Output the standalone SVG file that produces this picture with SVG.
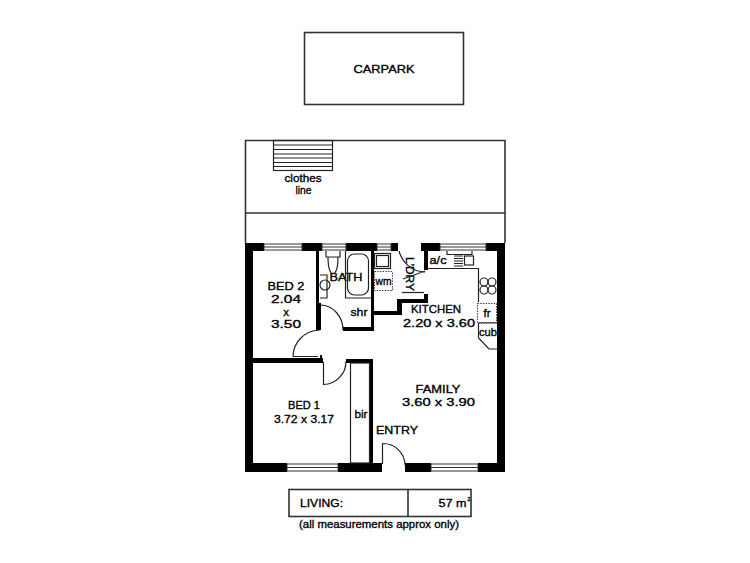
<svg xmlns="http://www.w3.org/2000/svg" width="750" height="563" viewBox="0 0 750 563">
<style>
.w{fill:#000}
.l{fill:none;stroke:#222;stroke-width:1.2}
.m{fill:none;stroke:#333;stroke-width:1.6}
.d{fill:none;stroke:#444;stroke-width:1.1;stroke-dasharray:1.5 1.2}
.win{fill:none;stroke:#333;stroke-width:1}
text{font-family:"Liberation Sans",Arial,sans-serif;fill:#000;stroke:#000;stroke-width:.35;font-size:11.500px;text-anchor:middle}
</style>
<rect width="750" height="563" fill="#fff"/>
<g id="carpark"><rect class="m" x="304.500" y="32.500" width="159" height="72"/><text x="384" y="73" textLength="61" lengthAdjust="spacingAndGlyphs">CARPARK</text></g>
<g id="yard">
<path class="m" d="M245.500 243V140.500H505V243M245.500 213H505"/>
<rect class="l" x="273.500" y="140.500" width="59" height="30"/>
<path class="l" d="M273.500 145H332.500M273.500 149.500H332.500M273.500 154H332.500M273.500 158H332.500M273.500 162.500H332.500M273.500 166.500H332.500"/>
<text x="303" y="182" textLength="37" lengthAdjust="spacingAndGlyphs">clothes</text>
<text x="303.500" y="194" textLength="16" lengthAdjust="spacingAndGlyphs">line</text>
</g>
<g id="walls">
<path class="w" d="M245 243H264V251H253V463H287V472H245Z"/>
<path class="w" d="M302 243H322V251H302ZM346 243H377V251H346ZM391 243H398V251H391ZM421 243H440V251H428V270H424V251H421ZM486 243H505V472H478V463H497V251H486Z"/>
<path class="w" d="M338 463H369V363H346V359H373V463H382V472H338ZM405 463H431V472H405Z"/>
<path class="w" d="M253 358H320V355H322V358H323V363H253Z"/>
<path class="w" d="M316 251H319V303H321V330H316Z"/>
<path class="w" d="M343 327H371V251H374V331H343ZM374 311H397V299H424V294H428V303H402V315H374Z"/>
</g>
<g id="windows">
<path class="win" d="M264 244H302V250H264ZM264 247H302M322 244H346V250H322ZM322 247H346M377 244H391V250H377ZM377 247H391M440 244H486V250H440ZM440 247H486M287 464H338V471H287ZM287 467.500H338M431 464H478V471H431ZM431 467.500H478"/>
</g>
<g id="bed2"><text x="286" y="290" textLength="37" lengthAdjust="spacingAndGlyphs">BED 2</text><text x="286" y="303" textLength="30" lengthAdjust="spacingAndGlyphs">2.04</text><text x="286" y="316">x</text><text x="286" y="328" textLength="30" lengthAdjust="spacingAndGlyphs">3.50</text></g>
<g id="bed1"><text x="304" y="409" textLength="32" lengthAdjust="spacingAndGlyphs">BED 1</text><text x="304" y="423" textLength="60" lengthAdjust="spacingAndGlyphs">3.72 x 3.17</text></g>
<g id="bir"><rect class="l" x="350.500" y="363" width="19" height="100"/><text x="361" y="418" textLength="13" lengthAdjust="spacingAndGlyphs" font-size="10">bir</text></g>
<g id="bath">
<text x="346" y="281" textLength="33" lengthAdjust="spacingAndGlyphs">BATH</text>
<path class="l" d="M326 251V257H340V251M328 257C328 270 331 274 333 274C335 274 338 270 338 257"/>
<path class="l" d="M320 275H327V298H320"/><circle class="l" cx="325" cy="285" r="5" fill="#fff"/>
<rect class="l" x="347.500" y="254" width="21" height="41" rx="7"/>
<path class="l" d="M345.500 251V298M345 298H372"/>
<text x="359" y="316" font-size="10" textLength="17" lengthAdjust="spacingAndGlyphs">shr</text>
</g>
<g id="laundry">
<rect class="l" x="374.500" y="253.500" width="16" height="15"/><rect class="l" x="376.500" y="255.500" width="12" height="11"/>
<rect class="d" x="374.500" y="271.500" width="18" height="19"/>
<text x="383.500" y="285" font-size="10" textLength="16" lengthAdjust="spacingAndGlyphs">wm</text>
<text transform="translate(406 274) rotate(90)" textLength="34" lengthAdjust="spacingAndGlyphs">L'DRY</text>
<path class="l" d="M402 292.500H424"/>
</g>
<g id="kitchen">
<text x="436" y="313" textLength="50" lengthAdjust="spacingAndGlyphs">KITCHEN</text><text x="439" y="327" textLength="72" lengthAdjust="spacingAndGlyphs">2.20 x 3.60</text>
<text x="438" y="264" font-size="10" textLength="17" lengthAdjust="spacingAndGlyphs">a/c</text>
<path class="l" d="M428 268.500H478.500V302M447 251V254.500H472V251"/>
<path class="l" d="M454 256H463M454 258.500H463M454 261H463M454 263.500H463M454 266H463"/>
<rect class="l" x="464.500" y="256" width="9" height="9"/>
<circle class="l" cx="484" cy="282" r="4"/><circle class="l" cx="492" cy="282" r="4"/><circle class="l" cx="484" cy="290" r="4"/><circle class="l" cx="492" cy="290" r="4"/>
<rect class="d" x="477.500" y="303.500" width="19" height="19"/>
<text x="487" y="317" font-size="10">fr</text>
<path class="l" d="M478.500 323V338L489 349H497M478.500 323H497"/>
<text x="488" y="336" font-size="10" textLength="18" lengthAdjust="spacingAndGlyphs">cub</text>
</g>
<g id="family"><text x="438" y="393" textLength="45" lengthAdjust="spacingAndGlyphs">FAMILY</text><text x="438.500" y="406" textLength="73" lengthAdjust="spacingAndGlyphs">3.60 x 3.90</text></g>
<g id="entry"><text x="397" y="434" textLength="42" lengthAdjust="spacingAndGlyphs">ENTRY</text></g>
<g id="connectors">
<path class="l" d="M320.500 305A23 25 0 0 1 343 330"/>
<path class="l" d="M293 356.500H318M293 356.500A27 27 0 0 1 320 330"/>
<path class="l" d="M323.500 362V384.500A23 23 0 0 0 346 361"/>
<path class="l" d="M382.500 443.500V464M382.500 443.500A22 22 0 0 1 405 465"/>
<path class="l" d="M399 251C402 262 412 272 425 272M425 271L403 279"/>
</g>
<g id="area">
<rect class="m" x="289" y="489.500" width="182" height="27"/><path class="m" d="M408 489.500V516.500"/>
<text x="321.500" y="507" textLength="43" lengthAdjust="spacingAndGlyphs">LIVING:</text>
<text x="452.500" y="507" textLength="28" lengthAdjust="spacingAndGlyphs">57 m</text><text x="469" y="501" style="font-size:5px">2</text>
<text x="379" y="528" font-size="10" textLength="160" lengthAdjust="spacingAndGlyphs">(all measurements approx only)</text>
</g>
</svg>
